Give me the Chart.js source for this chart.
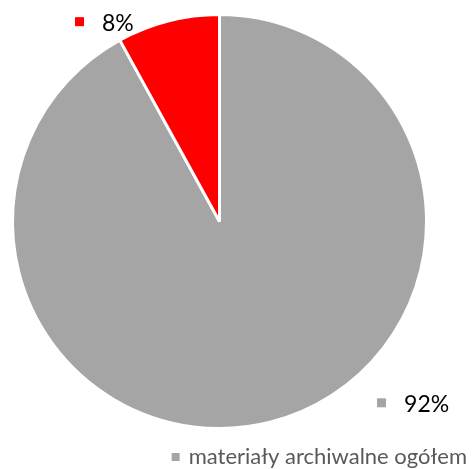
<!DOCTYPE html>
<html>
<head>
<meta charset="utf-8">
<script src="https://cdn.jsdelivr.net/npm/chart.js@4"></script>
<style>
  html, body { margin: 0; padding: 0; background: #fff; }
  #wrap { width: 473px; height: 469px; }
</style>
</head>
<body>
<div id="wrap"><canvas id="myChart"></canvas></div>
<script>
// dane
var kategorie = ['materiały archiwalne ogółem', 'pozostałe'];
var wartosci = [92, 8];
var etykiety = ['92%', '8%'];
var kolory = ['#A5A5A5', '#FF0000'];

// etykiety danych z kwadracikiem (jak w Excelu)
var etykietyPlugin = {
    id: 'etykiety',
    afterDatasetsDraw: function(chart) {
        var ctx = chart.ctx;
        var meta = chart.getDatasetMeta(0);
        // kat (stopnie) i promien wzgledny dla kazdej etykiety
        var pozycje = [[43.2, 1.283], [-120, 1.112]];
        ctx.save();
        ctx.font = '23px Lato, "Open Sans", sans-serif';
        ctx.textBaseline = 'middle';
        meta.data.forEach(function(arc, i) {
            var a = pozycje[i][0] * Math.PI / 180;
            var r = arc.outerRadius * pozycje[i][1];
            var x = arc.x + Math.cos(a) * r;
            var y = arc.y + Math.sin(a) * r;
            var w = ctx.measureText(etykiety[i]).width;
            var start = x - (w + 27) / 2;
            ctx.fillStyle = kolory[i];
            ctx.fillRect(start, y - 5, 9, 9);
            ctx.fillStyle = '#000';
            ctx.textAlign = 'left';
            ctx.fillText(etykiety[i], start + 27, y + 1);
        });
        ctx.restore();
    }
};

// legenda - tylko pierwsza pozycja widoczna, przy prawej krawedzi
var legendaPlugin = {
    id: 'legenda',
    afterDraw: function(chart) {
        var ctx = chart.ctx;
        ctx.save();
        ctx.font = '22px Lato, "Open Sans", sans-serif';
        ctx.textBaseline = 'middle';
        ctx.textAlign = 'left';
        var tekst = kategorie[0];
        var w = ctx.measureText(tekst).width;
        var xk = chart.width - 6 - w;
        var y = chart.height - 12;
        ctx.fillStyle = kolory[0];
        ctx.fillRect(xk - 17, y - 4, 8, 8);
        ctx.fillStyle = '#595959';
        ctx.fillText(tekst, xk, y);
        ctx.restore();
    }
};

var ctx = document.getElementById('myChart').getContext('2d');
var myChart = new Chart(ctx, {
    type: 'pie',
    data: {
        labels: kategorie,
        datasets: [{
            data: wartosci,
            backgroundColor: kolory,
            borderColor: '#ffffff',
            borderWidth: 3
        }]
    },
    options: {
        responsive: true,
        maintainAspectRatio: false,
        animation: false,
        layout: {
            padding: { left: 11, right: 45, top: 12, bottom: 38 }
        },
        plugins: {
            legend: { display: false },
            tooltip: { enabled: false }
        }
    },
    plugins: [etykietyPlugin, legendaPlugin]
});
</script>
</body>
</html>
